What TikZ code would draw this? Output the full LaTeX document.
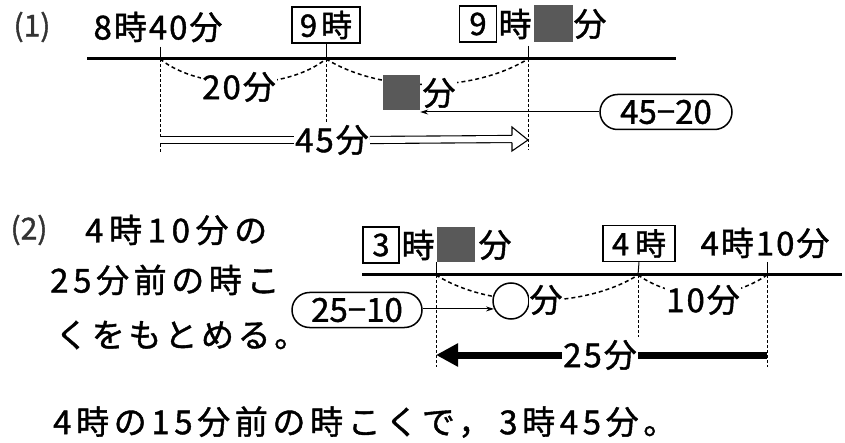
\documentclass[tikz,border=0pt]{standalone}
\usepackage{fontspec}
\setmainfont{Noto Sans CJK JP}[RawFeature={embolden=1.2}]
\usetikzlibrary{arrows.meta,shapes.misc}
\tikzset{
  mainline/.style={line width=3pt},
  arcline/.style={dash pattern=on 4pt off 3pt, line width=1.5pt},
  vdash/.style={dash pattern=on 3pt off 2pt, line width=0.8pt},
  tickline/.style={line width=1pt},
  lbl/.style={inner sep=1pt, fill=white, font=\fontsize{33}{36}\selectfont\addfontfeature{LetterSpace=6}},
  txt/.style={inner sep=0pt, font=\fontsize{33}{36}\selectfont\addfontfeature{LetterSpace=6}},
  body/.style={inner sep=0pt, font=\fontsize{33}{36}\selectfont\addfontfeature{LetterSpace=#1}},
  numbox/.style={draw, line width=1.5pt, inner sep=0pt, minimum height=36pt, fill=white},
  graysq/.style={fill=black!65, inner sep=0pt},
  oval/.style={draw, rounded rectangle, line width=1.5pt, inner sep=0pt, minimum height=35pt, fill=white},
  ptr/.style={-{Stealth[length=8pt,width=5pt]}, line width=1pt},
  dbl/.style={double, double distance=6pt, line width=1.1pt},
  headline/.style={line width=1.1pt, line join=miter},
}
\begin{document}
\begin{tikzpicture}[x=1pt,y=-1pt,font=\fontsize{33}{36}\selectfont]
\useasboundingbox (0,0) rectangle (845,443);
\fill[white] (0,0) rectangle (845,443);

% ---------------- Part (1) ----------------
\coordinate (L1s) at (87,59);
\coordinate (L1e) at (676,59);
\coordinate (A1) at (160,59);
\coordinate (B1) at (326,59);
\coordinate (C1) at (528,59);
\coordinate (A1t) at (160,47);
\coordinate (C1t) at (528,46);
\coordinate (A1b) at (160,152);
\coordinate (B1b) at (326,122);
\coordinate (C1b) at (528,150);

% arcs (drawn first, masked by labels)
\draw[arcline] (A1) .. controls (200,91) and (286,91) .. (B1);
\draw[arcline] (B1) .. controls (382,93) and (472,93) .. (C1);

\draw[mainline] (L1s) -- (L1e);

\node[txt, text=black!80, font=\fontsize{30}{34}\selectfont] (p1) at (32,27) {(1)};
\node[txt] (t840) at (158,27) {8時40分};
\node[numbox, minimum width=68pt, font=\fontsize{31}{34}\selectfont] (b9) at (326,25) {9\hspace{4pt}時};
\node[numbox, minimum width=37pt, font=\fontsize{31}{34}\selectfont] (b9s) at (478,24) {9};
\node[txt] (ji1) at (515,24) {時};
\node[graysq, minimum width=39pt, minimum height=37pt] (sq1) at (553.5,23.5) {};
\node[txt] (fun1) at (590,24) {分};

\draw[tickline] (A1t) -- (A1);
\draw[tickline] (b9.south) -- (B1);
\draw[tickline] (C1t) -- (C1);
\draw[vdash] (A1) -- (A1b);
\draw[vdash] (B1) -- (B1b);
\draw[vdash] (C1) -- (C1b);

\node[lbl] (l20) at (239,87) {20分};
\node[graysq, minimum width=37pt, minimum height=35pt] (sq2) at (401.5,92.5) {};
\node[lbl] (fun2) at (439,93) {分};
\node[oval, minimum width=132pt, font=\fontsize{33}{36}\selectfont] (o1) at (666,112) {45−20};
\draw[ptr] (o1.west) -- (sq2.east |- o1.west);

\node[lbl] (l45) at (332,140) {45分};
\coordinate (H1) at (512,139);
\coordinate (H1a) at (512,135.45);
\coordinate (H1b) at (512,127);
\coordinate (H1c) at (512,151);
\coordinate (H1d) at (512,142.55);
\draw[dbl] (A1 |- l45) -- (l45.west);
\draw[dbl] (l45.east) -- (H1);
\draw[headline, fill=white] (H1a) -- (H1b) -- (C1 |- l45) -- (H1c) -- (H1d);

% ---------------- Part (2) ----------------
\node[txt, text=black!80, font=\fontsize{30}{34}\selectfont] (p2) at (29,230) {(2)};
\node[body=17, anchor=west] (q1) at (85,230) {4時10分の};
\node[body=14, anchor=west] (q2) at (50,280) {25分前の時こ};
\node[body=11, anchor=west] (q3) at (55,335) {くをもとめる。};
\node[body=14, anchor=west] (ans) at (53,422) {4時の15分前の時こくで，\hspace{8pt}3時45分。};

\coordinate (L2s) at (362,275);
\coordinate (L2e) at (842,275);
\coordinate (A2) at (436,275);
\coordinate (B2) at (638,275);
\coordinate (C2) at (767,275);
\coordinate (C2t) at (767,262);
\coordinate (A2b) at (436,367);
\coordinate (B2b) at (638,337);
\coordinate (C2b) at (767,367);

\draw[arcline] (A2) .. controls (490,309) and (584,309) .. (B2);
\draw[arcline] (B2) .. controls (675,301) and (730,301) .. (C2);

\draw[mainline] (L2s) -- (L2e);

\node[numbox, minimum width=36pt, font=\fontsize{31}{34}\selectfont] (b3) at (381,245) {3};
\node[txt] (ji2) at (418,245) {時};
\node[graysq, minimum width=38pt, minimum height=35pt] (sq3) at (456,244.5) {};
\node[txt] (fun3) at (495,245) {分};
\node[numbox, minimum width=72pt, font=\fontsize{31}{34}\selectfont] (b4) at (639,243.5) {4\hspace{6pt}時};
\node[txt] (t410) at (765,243) {4時10分};

\draw[tickline] (sq3.south -| A2) -- (A2);
\draw[tickline] (b4.south) -- (B2);
\draw[tickline] (C2t) -- (C2);
\draw[vdash] (A2) -- (A2b);
\draw[vdash] (B2) -- (B2b);
\draw[vdash] (C2) -- (C2b);

\node[circle, draw, line width=1.5pt, fill=white, minimum size=36pt, inner sep=0pt] (c2) at (511,301) {};
\node[lbl] (fun4) at (546,300) {分};
\node[lbl] (l10) at (703,300) {10分};
\node[oval, minimum width=130pt, font=\fontsize{33}{36}\selectfont] (o2) at (357,310) {25−10};
\draw[ptr] (o2.east |- c2.205) -- (c2.205);

\node[lbl] (l25) at (600,355) {25分};
\draw[line width=7pt] (C2 |- l25) -- (l25.east);
\draw[line width=7pt, -{Triangle[length=22pt,width=22pt]}] (l25.west) -- (A2 |- l25);
\end{tikzpicture}
\end{document}
